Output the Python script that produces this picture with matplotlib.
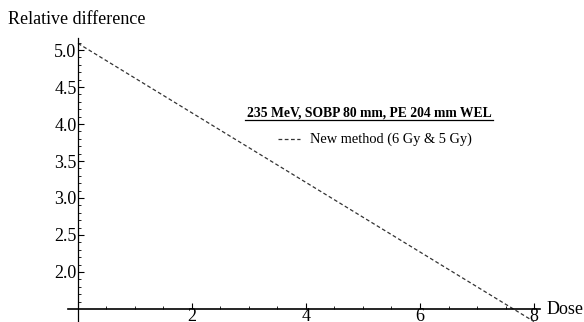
import matplotlib
matplotlib.use("Agg")
import matplotlib.pyplot as plt
from matplotlib.ticker import FixedLocator

plt.rcParams['font.family'] = ['Liberation Serif', 'DejaVu Serif']

# values
dose = [0, 1, 2, 3, 4, 5, 6, 7, 8]
rel_diff = [5.09, 4.62, 4.15, 3.68, 3.21, 2.74, 2.27, 1.80, 1.33]
y_ticks = [2.0, 2.5, 3.0, 3.5, 4.0, 4.5, 5.0]
x_ticks = [2, 4, 6, 8]

title = "235 MeV, SOBP 80 mm, PE 204 mm WEL"
series_name = "New method (6 Gy & 5 Gy)"

fig = plt.figure(figsize=(5.84, 3.22), dpi=100)
ax = fig.add_axes([0, 0, 1, 1])
ax.set_xlim(-1.368, 8.877)
ax.set_ylim(1.324, 5.676)

ax.plot(dose, rel_diff, color="#333333", lw=0.9, ls=(0, (3, 2)))

# mathematica style axes crossing at (0, 1.5)
for s in ["top", "right"]:
    ax.spines[s].set_visible(False)
ax.spines["left"].set_position(("data", 0))
ax.spines["bottom"].set_position(("data", 1.5))
ax.spines["left"].set_bounds(1.324, 5.16)
ax.spines["bottom"].set_bounds(-0.175, 8.1)
ax.spines["left"].set_linewidth(0.9)
ax.spines["bottom"].set_linewidth(1.2)

ax.set_yticks(y_ticks)
ax.set_yticklabels([f"{v:.1f}" for v in y_ticks])
ax.yaxis.set_minor_locator(FixedLocator([1.6 + 0.1 * i for i in range(36)]))
ax.set_xticks(x_ticks)
ax.set_xticklabels([str(v) for v in x_ticks])
ax.xaxis.set_minor_locator(FixedLocator([0.5 * i for i in range(1, 17)]))
ax.tick_params(axis="y", which="major", direction="in", length=4, width=0.8, labelsize=13, pad=1)
ax.tick_params(axis="y", which="minor", direction="in", length=2, width=0.6)
ax.tick_params(axis="x", which="major", direction="in", length=4, width=0.8, labelsize=13, pad=-1)
ax.tick_params(axis="x", which="minor", direction="in", length=2, width=0.6)

fig.text(8 / 584, 1 - 20 / 322, "Relative difference", fontsize=13, va="center", ha="left")
fig.text(547 / 584, 1 - 309 / 322, "Dose", fontsize=13, va="center", ha="left")

# title and legend inside the plot
fig.text(369 / 584, 1 - 113 / 322, title, fontsize=9.8, fontweight="bold",
         va="center", ha="center")
fig.add_artist(plt.Line2D([245 / 584, 493 / 584], [1 - 119.5 / 322] * 2,
                          color="black", lw=0.9))
fig.add_artist(plt.Line2D([278 / 584, 300 / 584], [1 - 139 / 322] * 2,
                          color="#333333", lw=0.9, ls=(0, (3, 2))))
fig.text(310 / 584, 1 - 139 / 322, series_name, fontsize=10.4, va="center", ha="left")

fig.savefig("out.png", dpi=100)
